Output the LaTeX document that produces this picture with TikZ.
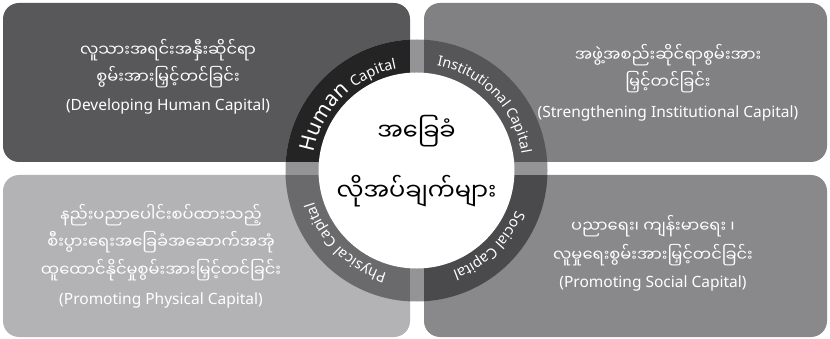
\documentclass[tikz,border=0pt]{standalone}
\usepackage{fontspec}
\setmainfont{Noto Sans}
\newfontfamily\mm[Script=Myanmar]{Noto Sans Myanmar UI}
\usetikzlibrary{decorations.text,calc}
\definecolor{boxTL}{RGB}{88,88,90}
\definecolor{boxTR}{RGB}{129,129,131}
\definecolor{boxBL}{RGB}{179,179,181}
\definecolor{boxBR}{RGB}{137,137,140}
\definecolor{ringTL}{RGB}{36,36,36}
\definecolor{ringTR}{RGB}{86,86,88}
\definecolor{ringBL}{RGB}{106,106,108}
\definecolor{ringBR}{RGB}{74,74,76}
\definecolor{ringgap}{RGB}{148,148,150}
\tikzset{
  quad/.style={rounded corners=16pt},
  mmline/.style={text=white, inner sep=0pt, font=\mm\fontsize{16.3}{18}\selectfont},
  enline/.style={text=white, inner sep=0pt, font=\fontsize{15.5}{18}\selectfont},
  centre/.style={text=black, inner sep=0pt, font=\mm\fontsize{24}{28}\selectfont},
  ringtext/.style={decorate, decoration={text along path, text align=center, text color=white}}
}
\begin{document}
\begin{tikzpicture}[x=1pt,y=1pt]
\useasboundingbox (0,0) rectangle (830,-339);
\coordinate (c) at (416.5,-170.5);
% quadrant boxes
\fill[boxTL, quad] (3,-3) rectangle (410,-162);
\fill[boxTR, quad] (424,-3) rectangle (827,-162);
\fill[boxBL, quad] (3,-175) rectangle (410,-337);
\fill[boxBR, quad] (424,-175) rectangle (827,-337);
% ring
\begin{scope}
  \clip (c) circle (131);
  \fill[ringgap] (c) circle (131);
  \fill[ringTL] (280,-30) rectangle (410,-162);
  \fill[ringTR] (424,-30) rectangle (560,-162);
  \fill[ringBL] (280,-175) rectangle (410,-310);
  \fill[ringBR] (424,-175) rectangle (560,-310);
\end{scope}
\fill[white] (c) circle (98);
% ring texts (clockwise, tops outward)
\path[ringtext, decoration={text={|\fontsize{21}{21}\selectfont|Human |\fontsize{14.5}{14}\selectfont|Capital}}]
  ($(c)+(178:104)$) arc[start angle=178, end angle=93, radius=104];
\path[ringtext, decoration={text={|\fontsize{14.2}{14}\selectfont|Institutional Capital}}]
  ($(c)+(90:107)$) arc[start angle=90, end angle=-2, radius=107];
\path[ringtext, decoration={text={|\fontsize{14.6}{14}\selectfont|Social Capital}}]
  ($(c)+(-4:107)$) arc[start angle=-4, end angle=-88, radius=107];
\path[ringtext, decoration={text={|\fontsize{14.6}{14}\selectfont|Physical Capital}}]
  ($(c)+(-92:107)$) arc[start angle=-92, end angle=-177, radius=107];
% centre
\node[centre] (c1) at (416.5,-131) {အခြေခံ};
\node[centre] (c2) at (416.5,-191) {လိုအပ်ချက်များ};
% top left
\node[mmline] (tl1) at (168,-50) {လူသားအရင်းအနှီးဆိုင်ရာ};
\node[mmline] (tl2) at (168,-77) {စွမ်းအားမြှင့်တင်ခြင်း};
\node[enline] (tl3) at (168,-106) {(Developing Human Capital)};
% top right
\node[mmline] (tr1) at (668,-55) {အဖွဲ့အစည်းဆိုင်ရာစွမ်းအား};
\node[mmline] (tr2) at (668,-82) {မြှင့်တင်ခြင်း};
\node[enline] (tr3) at (668,-113) {(Strengthening Institutional Capital)};
% bottom left
\node[mmline] (bl1) at (161,-215) {နည်းပညာပေါင်းစပ်ထားသည့်};
\node[mmline] (bl2) at (161,-242) {စီးပွားရေးအခြေခံအဆောက်အအုံ};
\node[mmline] (bl3) at (161,-270) {ထူထောင်နိုင်မှုစွမ်းအားမြှင့်တင်ခြင်း};
\node[enline] (bl4) at (161,-300) {(Promoting Physical Capital)};
% bottom right
\node[mmline] (br1) at (653,-226) {ပညာရေး၊ ကျန်းမာရေး ၊};
\node[mmline] (br2) at (653,-255) {လူမှုရေးစွမ်းအားမြှင့်တင်ခြင်း};
\node[enline] (br3) at (653,-283) {(Promoting Social Capital)};
\end{tikzpicture}
\end{document}
